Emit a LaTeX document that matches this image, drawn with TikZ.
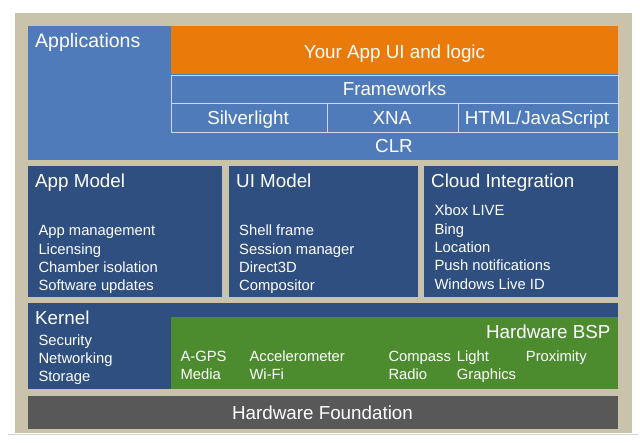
\documentclass[tikz,border=0pt]{standalone}
\usepackage{fontspec}
\setmainfont{Liberation Sans}
\definecolor{framebg}{RGB}{202,195,172}
\definecolor{appblue}{RGB}{79,123,186}
\definecolor{darkblue}{RGB}{46,79,128}
\definecolor{apporange}{RGB}{234,123,10}
\definecolor{bspgreen}{RGB}{76,140,46}
\definecolor{hwgray}{RGB}{88,88,88}
\definecolor{fwline}{RGB}{205,218,238}
\begin{document}
\begin{tikzpicture}[x=1pt,y=-1pt,
  blk/.style={anchor=north west,inner sep=0,outer sep=0,draw=none},
  cell/.style={anchor=north west,inner sep=0,outer sep=0,draw=fwline,line width=0.8pt},
  ttl/.style={font=\fontsize{18.8}{20}\selectfont,text=white,inner sep=0},
  itm/.style={font=\fontsize{14.8}{18}\selectfont,text=white,inner sep=0,anchor=base west},
  lbl/.style={ttl,anchor=base west},
  mid/.style={ttl,anchor=base}]
\useasboundingbox (0,0) rectangle (640,443);
\fill[white] (0,0) rectangle (640,443);
\draw[gray!35,line width=1pt] (8,435) -- (638,435);
\node[blk,fill=framebg,minimum width=617pt,minimum height=420pt] (frame) at (15,13) {};
% Applications layer
\node[blk,fill=appblue,minimum width=590pt,minimum height=134pt] (apps) at (28,26) {};
\node[blk,fill=apporange,minimum width=447pt,minimum height=48pt] (yourapp) at (171,26) {};
\node[cell,minimum width=447pt,minimum height=28pt] (fw) at (171,75) {};
\node[cell,minimum width=156pt,minimum height=29pt] (sl) at (171,103) {};
\node[cell,minimum width=131pt,minimum height=29pt] (xna) at (327,103) {};
\node[cell,minimum width=160pt,minimum height=29pt] (html) at (458,103) {};
\node[lbl,font=\fontsize{19.5}{20}\selectfont] (tapps) at (35,47.5) {Applications};
\node[mid] (tyour) at (394.5,58.3) {Your App UI and logic};
\node[mid] (tfw) at (394.5,95.7) {Frameworks};
\node[mid] (tsl) at (248,125) {Silverlight};
\node[mid] (txna) at (392,125) {XNA};
\node[mid] (thtml) at (537,125) {HTML/JavaScript};
\node[mid] (tclr) at (394,152.7) {CLR};
% Middle layer
\node[blk,fill=darkblue,minimum width=194pt,minimum height=131pt] (appmodel) at (28,166) {};
\node[blk,fill=darkblue,minimum width=189pt,minimum height=131pt] (uimodel) at (229,166) {};
\node[blk,fill=darkblue,minimum width=194pt,minimum height=131pt] (cloud) at (424,166) {};
\node[lbl] (tam) at (35,188) {App Model};
\node[lbl] (tui) at (236,188) {UI Model};
\node[lbl] (tcl) at (431,188) {Cloud Integration};
\foreach \t [count=\i from 0] in {App management,Licensing,Chamber isolation,Software updates}
  \node[itm] (am\i) at (38.3,236+18.3*\i) {\t};
\foreach \t [count=\i from 0] in {Shell frame,Session manager,Direct3D,Compositor}
  \node[itm] (ui\i) at (239,236+18.3*\i) {\t};
\foreach \t [count=\i from 0] in {Xbox LIVE,Bing,Location,Push notifications,Windows Live ID}
  \node[itm] (cl\i) at (434.3,216+18.3*\i) {\t};
% Kernel layer
\node[blk,fill=darkblue,minimum width=590pt,minimum height=86pt] (kernel) at (28,303) {};
\node[blk,fill=bspgreen,minimum width=447pt,minimum height=72pt] (bsp) at (171,317) {};
\node[lbl] (tkern) at (35,324.3) {Kernel};
\foreach \t [count=\i from 0] in {Security,Networking,Storage}
  \node[itm] (kn\i) at (38.3,345.7+18*\i) {\t};
\node[ttl,anchor=base east] (tbsp) at (610.7,339) {Hardware BSP};
\node[itm] (agps) at (180.3,361.7) {A-GPS};
\node[itm] (media) at (180.3,380) {Media};
\node[itm] (accel) at (249.3,361.7) {Accelerometer};
\node[itm] (wifi) at (249.3,380) {Wi-Fi};
\node[itm] (compass) at (388.3,361.7) {Compass};
\node[itm] (radio) at (388.3,380) {Radio};
\node[itm] (light) at (456.7,361.7) {Light};
\node[itm] (graphics) at (456.7,380) {Graphics};
\node[itm] (prox) at (525.7,361.7) {Proximity};
% Hardware foundation
\node[blk,fill=hwgray,minimum width=590pt,minimum height=33pt] (hw) at (28,396) {};
\node[mid] (thw) at (322.5,419.3) {Hardware Foundation};
\end{tikzpicture}
\end{document}
